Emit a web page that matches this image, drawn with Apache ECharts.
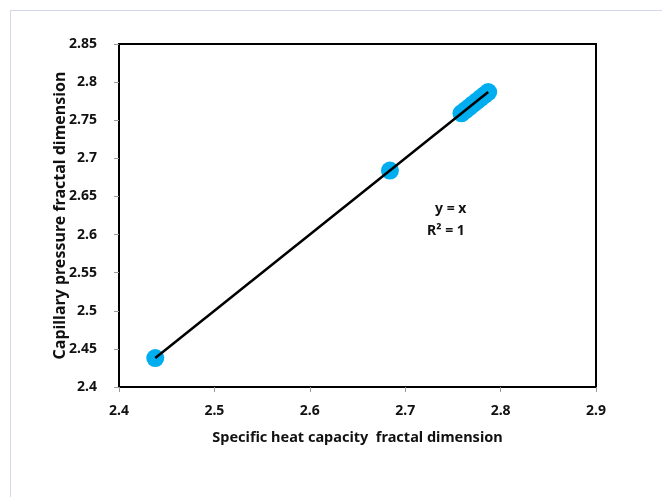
<!DOCTYPE html>
<html>
<head>
<meta charset="utf-8">
<script src="https://cdn.jsdelivr.net/npm/echarts@6/dist/echarts.min.js"></script>
<style>
html,body{margin:0;padding:0;background:#fff;}
#frame{position:absolute;left:10px;top:10px;width:660px;height:500px;border-left:1.5px solid #d3d6ec;border-top:1.5px solid #d3d6ec;}
#chart{position:absolute;left:0;top:0;width:662px;height:497px;}
</style>
</head>
<body>
<div id="frame"></div>
<div id="chart"></div>
<script>
var xValues = [2.438, 2.684, 2.759, 2.763, 2.767, 2.771, 2.775, 2.779, 2.783, 2.787];
var yValues = [2.438, 2.684, 2.759, 2.763, 2.767, 2.771, 2.775, 2.779, 2.783, 2.787];
var fitStart = [2.438, 2.438];
var fitEnd = [2.787, 2.787];
var xTitle = 'Specific heat capacity  fractal dimension';
var yTitle = 'Capillary pressure fractal dimension';
var xTicks = [2.4, 2.5, 2.6, 2.7, 2.8, 2.9];
var yTicks = [2.4, 2.45, 2.5, 2.55, 2.6, 2.65, 2.7, 2.75, 2.8, 2.85];

var points = xValues.map(function(x, i){ return [x, yValues[i]]; });
var FONT = '"Noto Sans", "Open Sans", sans-serif';
var chart = echarts.init(document.getElementById('chart'), null, {renderer:'canvas'});
chart.setOption({
  animation:false,
  backgroundColor:'transparent',
  grid:{left:119, right:66, top:44, bottom:110, show:true, borderColor:'#000', borderWidth:2, backgroundColor:'transparent'},
  xAxis:{
    type:'value', min:2.4, max:2.9, interval:0.1,
    name:xTitle, nameLocation:'middle', nameGap:43, nameMoveOverlap:false,
    nameTextStyle:{fontFamily:FONT, fontWeight:'bold', fontSize:14.5, color:'#111'},
    axisLine:{show:true, lineStyle:{color:'#000', width:2}},
    axisTick:{show:true, inside:false, length:5, lineStyle:{color:'#999', width:1}},
    axisLabel:{fontFamily:FONT, fontWeight:'bold', fontSize:14, color:'#111', margin:17,
      formatter:function(v){ return String(Math.round(v*10)/10); }},
    splitLine:{show:false}
  },
  yAxis:{
    type:'value', min:2.4, max:2.85, interval:0.05,
    name:yTitle, nameLocation:'middle', nameGap:51, nameRotate:90, nameMoveOverlap:false,
    nameTextStyle:{fontFamily:FONT, fontWeight:'bold', fontSize:16, color:'#111'},
    axisLine:{show:true, lineStyle:{color:'#000', width:2}},
    axisTick:{show:true, inside:false, length:5, lineStyle:{color:'#999', width:1}},
    axisLabel:{fontFamily:FONT, fontWeight:'bold', fontSize:14, color:'#111', margin:22,
      formatter:function(v){ return String(Math.round(v*100)/100); }},
    splitLine:{show:false}
  },
  series:[
    {type:'scatter', data:points, symbol:'circle', symbolSize:18,
     itemStyle:{color:'#00ADEF', opacity:1}, z:2},
    {type:'line', data:[fitStart, fitEnd], symbol:'none',
     lineStyle:{color:'#000', width:2.5}, z:3}
  ],
  graphic:[
    {type:'text', left:435, top:202, style:{text:'y = x', font:'bold 14px "Noto Sans"', fill:'#111'}},
    {type:'text', left:427, top:224, style:{text:'R² = 1', font:'bold 14px "Noto Sans"', fill:'#111'}}
  ]
});
</script>
</body>
</html>
